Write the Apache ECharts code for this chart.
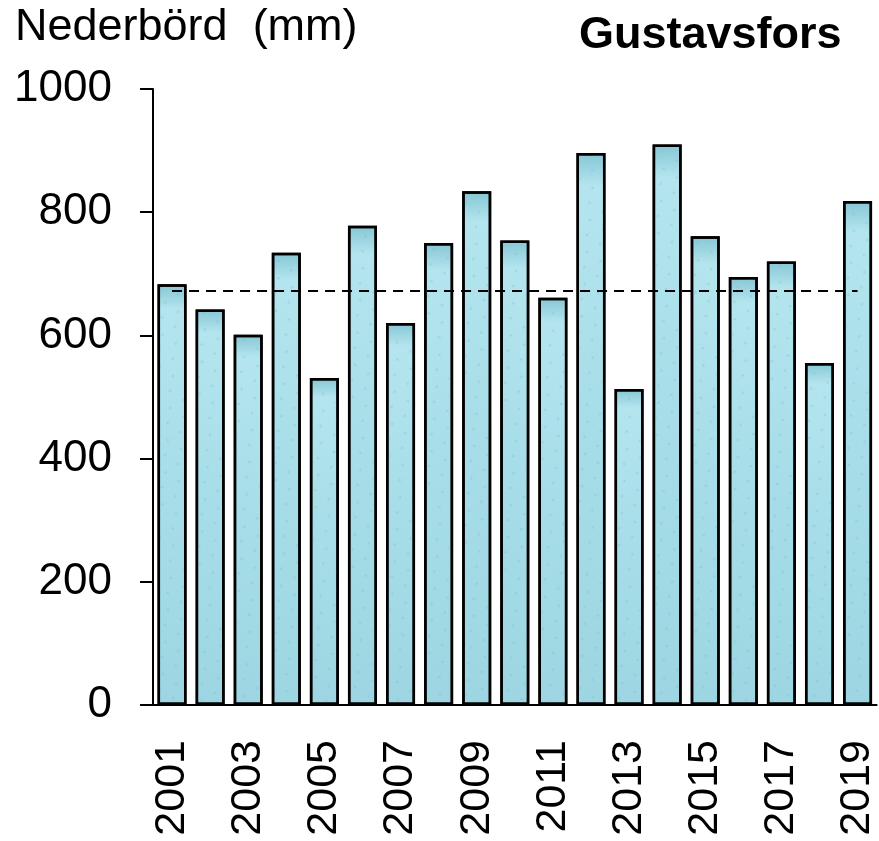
<!DOCTYPE html>
<html>
<head>
<meta charset="utf-8">
<script src="https://cdn.jsdelivr.net/npm/echarts@6/dist/echarts.min.js"></script>
<style>
  html, body { margin: 0; padding: 0; background: #fff; }
  #chart { width: 879px; height: 841px; }
</style>
</head>
<body>
<div id="chart"></div>
<script>
var years = ['2001', '2002', '2003', '2004', '2005', '2006', '2007', '2008', '2009', '2010',
             '2011', '2012', '2013', '2014', '2015', '2016', '2017', '2018', '2019'];
var precipitation = [683, 642, 601, 734, 531, 778, 620, 750, 834, 754,
                     661, 896, 513, 910, 761, 695, 720, 555, 818];
var normalLevel = 672;

var font = 'Liberation Sans, Arial, sans-serif';

var chart = echarts.init(document.getElementById('chart'));
chart.setOption({
    animation: false,
    grid: { left: 153, right: 0, top: 89, bottom: 136, containLabel: false },
    graphic: [
        {
            type: 'text', left: 15, top: 5,
            style: { text: 'Nederbörd  (mm)', font: '45px ' + font, fill: '#000' }
        },
        {
            type: 'text', left: 579, top: 13,
            style: { text: 'Gustavsfors', font: 'bold 45px ' + font, fill: '#000' }
        }
    ],
    xAxis: {
        type: 'category',
        data: years,
        axisLine: { lineStyle: { color: '#000', width: 2 } },
        axisTick: { show: false },
        axisLabel: {
            interval: 1,
            rotate: 90,
            margin: 35,
            color: '#000',
            fontSize: 43,
            fontFamily: font
        }
    },
    yAxis: {
        type: 'value',
        min: 0,
        max: 1000,
        interval: 200,
        splitLine: { show: false },
        axisLine: { show: true, lineStyle: { color: '#000', width: 2 } },
        axisTick: { show: true, length: 13, lineStyle: { color: '#000', width: 2 } },
        axisLabel: {
            margin: 41,
            color: '#000',
            fontSize: 44,
            fontFamily: font,
            formatter: function (v) { return String(v); }
        }
    },
    series: [
        {
            type: 'bar',
            data: precipitation,
            barWidth: 29,
            itemStyle: {
                color: new echarts.graphic.LinearGradient(0, 0, 0, 1, [
                    { offset: 0, color: '#86c6d5' },
                    { offset: 0.06, color: '#b4e5ee' },
                    { offset: 0.5, color: '#a6dde8' },
                    { offset: 1, color: '#9dd6e2' }
                ]),
                borderColor: '#000',
                borderWidth: 2.5,
                decal: {
                    symbol: 'circle',
                    color: 'rgba(110,185,200,0.35)',
                    symbolSize: 0.5,
                    dashArrayX: [[6, 10], [0, 6, 6, 4]],
                    dashArrayY: [5, 9],
                    rotation: 0.6
                }
            },
            markLine: {
                silent: true,
                symbol: 'none',
                label: { show: false },
                lineStyle: { color: '#000', type: [10, 7], width: 2 },
                data: [[{ coord: [0, normalLevel] }, { coord: [years.length - 1, normalLevel] }]]
            }
        }
    ]
});
</script>
</body>
</html>
